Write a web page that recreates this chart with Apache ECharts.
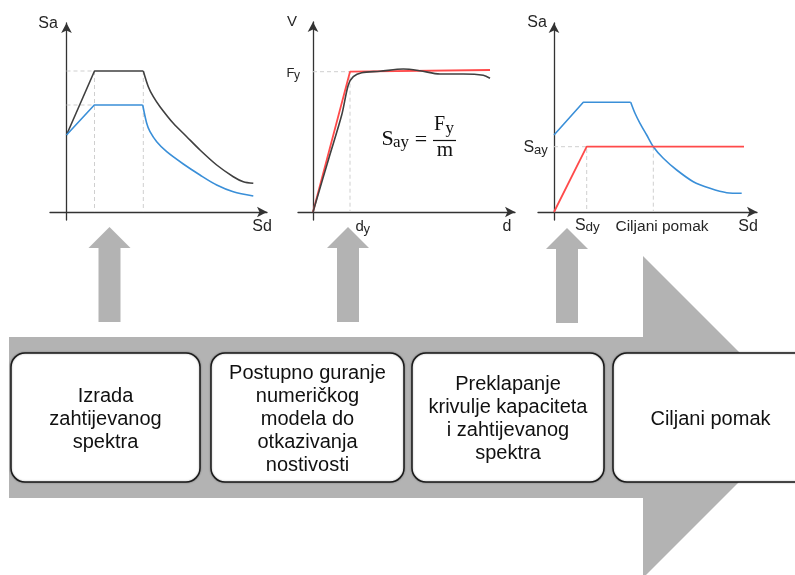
<!DOCTYPE html>
<html>
<head>
<meta charset="utf-8">
<script src="https://cdn.jsdelivr.net/npm/echarts@6/dist/echarts.min.js"></script>
<style>
html,body{margin:0;padding:0;background:#fff;}
#main{width:795px;height:575px;}
</style>
</head>
<body>
<div id="main"></div>
<script>
// ---------- DATA (1 unit = 10 px in each panel) ----------
// Panel 1: demand spectra
const p1ElasticRise  = [[0,7.7],[2.8,14.1],[7.68,14.1]];
const p1ElasticDecay = [[7.68,14.1],[8.18,12.53],[8.68,11.53],[9.35,10.53],[10.68,8.87],[12.02,7.53],[13.35,6.2],[15.02,4.7],[16.68,3.53],[17.68,3.03],[18.68,2.87]];
const p1ReducedRise  = [[0,7.7],[2.78,10.7],[7.62,10.7]];
const p1ReducedDecay = [[7.62,10.7],[8.02,8.87],[8.35,8.03],[9.02,7.03],[10.02,6.03],[11.68,4.8],[13.35,3.7],[15.02,2.7],[16.68,2.03],[18.68,1.6]];
const p1Guides = [
  [[0,14.1],[2.8,14.1],[2.8,0]],
  [[0,10.7],[2.78,10.7]],
  [[7.68,14.1],[7.68,0]]
];
// Panel 2: capacity curve
const p2Capacity = [[0,0],[1.63,5.53],[2.87,9.7],[3.53,12.7],[4.03,13.53],[4.87,13.93],[6.7,14.07],[9.03,14.3],[10.7,14.13],[12.7,13.8],[15.03,13.8],[17.03,13.67],[17.7,13.37]];
const p2Bilinear = [[0,0],[3.7,14.03],[17.7,14.2]];
const p2Guides = [
  [[0,14.03],[3.7,14.03],[3.7,0]]
];
// Panel 3: overlap
const p3DemandRise  = [[0,7.7],[2.93,10.97],[7.67,10.97]];
const p3DemandDecay = [[7.67,10.97],[8.1,9.87],[8.6,8.87],[9.27,7.7],[9.93,6.53],[10.93,5.37],[12.27,4.2],[13.93,3.03],[15.6,2.37],[17.27,1.93],[18.77,1.87]];
const p3Capacity = [[0,0],[3.27,6.53],[19.0,6.53]];
const p3Guides = [
  [[0,6.53],[3.27,6.53],[3.27,0]],
  [[9.93,6.53],[9.93,0]]
];
// Step boxes
const stepTexts = [
  ['Izrada','zahtijevanog','spektra'],
  ['Postupno guranje','numeričkog','modela do','otkazivanja','nostivosti'],
  ['Preklapanje','krivulje kapaciteta','i zahtijevanog','spektra'],
  ['Ciljani pomak']
];

// ---------- STYLE ----------
const C_BLACK = '#404040', C_BLUE = '#3a8fd8', C_RED = '#ff4a4a', C_GUIDE = '#cfcfcf';
const C_AXIS = '#333333', C_ARROW = '#b3b3b3', C_TEXT = '#262626';
const SANS = '"Liberation Sans", Arial, sans-serif';
const SERIF = '"Liberation Serif", "Times New Roman", serif';

const grids = [
  {left:50,  top:23, width:217, height:197},
  {left:298, top:22, width:217, height:198},
  {left:538, top:23, width:219, height:197}
].map(g => Object.assign({containLabel:false, outerBoundsMode:'none'}, g));

const axisBase = {
  type:'value',
  axisLine:{show:true, onZero:true, symbol:['none','arrow'], symbolSize:[8,10], lineStyle:{color:C_AXIS, width:1.3}},
  axisTick:{show:false}, axisLabel:{show:false}, splitLine:{show:false}
};
const xRanges = [[-1.65,20.05],[-1.5,20.2],[-1.6,20.3]];
const yRanges = [[-0.8,18.9],[-0.8,19.0],[-0.8,18.9]];
const xAxes = xRanges.map((r,i)=>Object.assign({}, axisBase, {gridIndex:i, min:r[0], max:r[1]}));
const yAxes = yRanges.map((r,i)=>Object.assign({}, axisBase, {gridIndex:i, min:r[0], max:r[1]}));

function line(idx, data, color, width, smooth, z){
  return {type:'line', xAxisIndex:idx, yAxisIndex:idx, data:data, symbol:'none', showSymbol:false,
    smooth:smooth||false,
    lineStyle:{color:color, width:width}, silent:true, z:z||3, animation:false};
}
function guide(idx, data){
  return {type:'line', xAxisIndex:idx, yAxisIndex:idx, data:data, symbol:'none', showSymbol:false,
    lineStyle:{color:C_GUIDE, width:1, type:[4,3]}, silent:true, z:1, animation:false};
}

const series = [];
p1Guides.forEach(g=>series.push(guide(0,g)));
p2Guides.forEach(g=>series.push(guide(1,g)));
p3Guides.forEach(g=>series.push(guide(2,g)));
series.push(line(0,p1ElasticRise,C_BLACK,1.6));
series.push(line(0,p1ElasticDecay,C_BLACK,1.6,0.3));
series.push(line(0,p1ReducedRise,C_BLUE,1.6));
series.push(line(0,p1ReducedDecay,C_BLUE,1.6,0.3));
series.push(line(1,p2Bilinear,C_RED,1.8,false,3));
series.push(line(1,p2Capacity,C_BLACK,1.6,0.3,4));
series.push(line(2,p3DemandRise,C_BLUE,1.6));
series.push(line(2,p3DemandDecay,C_BLUE,1.6,0.3));
series.push(line(2,p3Capacity,C_RED,1.8));

// ---------- GRAPHIC (diagram shapes & labels) ----------
function txt(text, x, baseline, size, align, family, color){
  return {type:'text', x:x, y:baseline - 0.35*size, silent:true, z:10,
    style:{text:text, fontSize:size, fontFamily:family||SANS, fill:color||C_TEXT,
      align:align||'left', textAlign:align||'left', verticalAlign:'middle', textVerticalAlign:'middle'}};
}
function upArrow(cx, tip, base, bottom){
  return {type:'polygon', silent:true, z:1,
    shape:{points:[[cx,tip],[cx+21,base],[cx+11,base],[cx+11,bottom],[cx-11,bottom],[cx-11,base],[cx-21,base]]},
    style:{fill:C_ARROW}};
}
const boxes = [[11,189],[211,193],[412,192],[613,195]];
const graphics = [];
graphics.push({type:'polygon', silent:true, z:0,
  shape:{points:[[9,337],[643,337],[643,256],[804,417],[643,578],[643,498],[9,498]]},
  style:{fill:C_ARROW}});
graphics.push(upArrow(109.5,227,248,322));
graphics.push(upArrow(348,227,248,322));
graphics.push(upArrow(567,228,249,323));
boxes.forEach((b,i)=>{
  graphics.push({type:'rect', silent:true, z:2,
    shape:{x:b[0], y:353, width:b[1], height:129, r:14},
    style:{fill:'#ffffff', stroke:'#1a1a1a', lineWidth:1.5, shadowBlur:2, shadowColor:'rgba(0,0,0,0.35)'}});
  graphics.push({type:'text', silent:true, z:3, x:b[0]+b[1]/2, y:419,
    style:{text:stepTexts[i].join('\n'), fontSize:20, lineHeight:23, fontFamily:SANS, fill:'#111',
      align:'center', textAlign:'center', verticalAlign:'middle', textVerticalAlign:'middle'}});
});
// panel 1 labels
graphics.push(txt('Sa',48,29,16,'center'));
graphics.push(txt('Sd',262,232,16,'center'));
// panel 2 labels
graphics.push(txt('V',292,27,15,'center'));
graphics.push(txt('F',286.5,78,13));
graphics.push(txt('y',294,79.5,12));
graphics.push(txt('d',355.5,232,15));
graphics.push(txt('y',363.5,234,13));
graphics.push(txt('d',507,232,16,'center'));
// formula S_ay = F_y / m
graphics.push(txt('S',381.5,146.5,22,'left',SERIF,'#111'));
graphics.push(txt('ay',393,148.5,17,'left',SERIF,'#111'));
graphics.push(txt('=',421,148,22,'center',SERIF,'#111'));
graphics.push(txt('F',434,132,20,'left',SERIF,'#111'));
graphics.push(txt('y',445.5,134.5,17,'left',SERIF,'#111'));
graphics.push({type:'line', silent:true, z:10, shape:{x1:433,y1:140.5,x2:456,y2:140.5}, style:{stroke:'#111', lineWidth:1.2}});
graphics.push(txt('m',445,157.5,21,'center',SERIF,'#111'));
// panel 3 labels
graphics.push(txt('Sa',537,28.5,16,'center'));
graphics.push(txt('S',523.5,153.5,16));
graphics.push(txt('ay',534,155,13));
graphics.push(txt('S',575,231.5,16));
graphics.push(txt('dy',585.5,232.5,13.5));
graphics.push(txt('Ciljani pomak',662,231.7,15.5,'center'));
graphics.push(txt('Sd',748,231.7,16,'center'));

const chart = echarts.init(document.getElementById('main'), null, {renderer:'canvas'});
chart.setOption({
  backgroundColor:'#ffffff',
  animation:false,
  grid:grids,
  xAxis:xAxes,
  yAxis:yAxes,
  series:series,
  graphic:{elements:graphics}
});
</script>
</body>
</html>
